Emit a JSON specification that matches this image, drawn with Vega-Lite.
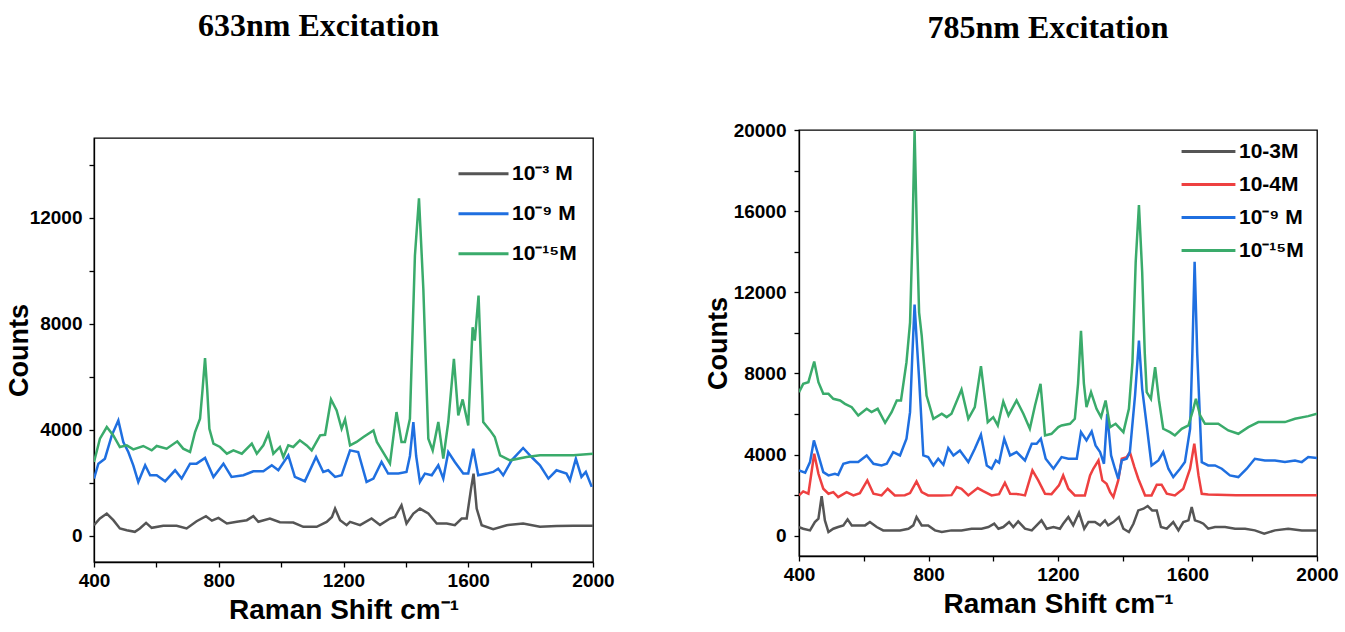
{
  "$schema": "https://vega.github.io/schema/vega-lite/v6.json",
  "padding": {"left": 4, "top": 9, "right": 0, "bottom": 0},
  "spacing": 88,
  "resolve": {"scale": {"color": "independent"}, "legend": {"color": "independent"}},
  "config": {
    "font": "Liberation Sans",
    "view": {"stroke": "black", "strokeWidth": 1.3},
    "axis": {
      "labelFont": "Liberation Sans", "labelFontSize": 19, "labelFontWeight": "bold", "labelColor": "black",
      "titleFont": "Liberation Sans", "titleFontSize": 27, "titleFontWeight": "bold", "titleColor": "black",
      "domainColor": "black", "domainWidth": 1.3, "tickColor": "black", "tickWidth": 1.3, "tickSize": 5,
      "grid": false, "labelFlush": false, "labelOverlap": false, "labelBound": false
    },
    "legend": {
      "labelFont": "Liberation Sans", "labelFontSize": 21, "labelFontWeight": "bold", "labelColor": "black",
      "symbolType": "stroke", "symbolStrokeWidth": 3, "labelOffset": 2, "title": null
    },
    "title": {"font": "Liberation Serif", "fontSize": 32, "fontWeight": "bold", "color": "black", "anchor": "middle"}
  },
  "datasets": {
    "left": [
      {"x":400,"y":389,"s":"10⁻³ M"},{"x":419,"y":640,"s":"10⁻³ M"},{"x":441,"y":829,"s":"10⁻³ M"},{"x":462,"y":578,"s":"10⁻³ M"},{"x":483,"y":264,"s":"10⁻³ M"},{"x":505,"y":201,"s":"10⁻³ M"},{"x":531,"y":138,"s":"10⁻³ M"},{"x":547,"y":264,"s":"10⁻³ M"},{"x":567,"y":477,"s":"10⁻³ M"},{"x":585,"y":289,"s":"10⁻³ M"},{"x":622,"y":364,"s":"10⁻³ M"},{"x":665,"y":364,"s":"10⁻³ M"},{"x":697,"y":264,"s":"10⁻³ M"},{"x":729,"y":540,"s":"10⁻³ M"},{"x":759,"y":728,"s":"10⁻³ M"},{"x":778,"y":560,"s":"10⁻³ M"},{"x":799,"y":665,"s":"10⁻³ M"},{"x":826,"y":452,"s":"10⁻³ M"},{"x":858,"y":515,"s":"10⁻³ M"},{"x":890,"y":578,"s":"10⁻³ M"},{"x":911,"y":728,"s":"10⁻³ M"},{"x":927,"y":520,"s":"10⁻³ M"},{"x":964,"y":640,"s":"10⁻³ M"},{"x":996,"y":500,"s":"10⁻³ M"},{"x":1039,"y":490,"s":"10⁻³ M"},{"x":1071,"y":327,"s":"10⁻³ M"},{"x":1114,"y":330,"s":"10⁻³ M"},{"x":1146,"y":515,"s":"10⁻³ M"},{"x":1163,"y":700,"s":"10⁻³ M"},{"x":1173,"y":1017,"s":"10⁻³ M"},{"x":1189,"y":578,"s":"10⁻³ M"},{"x":1210,"y":389,"s":"10⁻³ M"},{"x":1221,"y":515,"s":"10⁻³ M"},{"x":1253,"y":389,"s":"10⁻³ M"},{"x":1290,"y":640,"s":"10⁻³ M"},{"x":1317,"y":400,"s":"10⁻³ M"},{"x":1349,"y":640,"s":"10⁻³ M"},{"x":1365,"y":700,"s":"10⁻³ M"},{"x":1386,"y":1142,"s":"10⁻³ M"},{"x":1402,"y":452,"s":"10⁻³ M"},{"x":1424,"y":829,"s":"10⁻³ M"},{"x":1445,"y":1017,"s":"10⁻³ M"},{"x":1472,"y":829,"s":"10⁻³ M"},{"x":1499,"y":452,"s":"10⁻³ M"},{"x":1531,"y":450,"s":"10⁻³ M"},{"x":1557,"y":389,"s":"10⁻³ M"},{"x":1579,"y":640,"s":"10⁻³ M"},{"x":1595,"y":640,"s":"10⁻³ M"},{"x":1609,"y":1770,"s":"10⁻³ M"},{"x":1617,"y":2335,"s":"10⁻³ M"},{"x":1627,"y":1017,"s":"10⁻³ M"},{"x":1643,"y":389,"s":"10⁻³ M"},{"x":1680,"y":238,"s":"10⁻³ M"},{"x":1723,"y":389,"s":"10⁻³ M"},{"x":1776,"y":452,"s":"10⁻³ M"},{"x":1830,"y":327,"s":"10⁻³ M"},{"x":1883,"y":360,"s":"10⁻³ M"},{"x":1937,"y":364,"s":"10⁻³ M"},{"x":2000,"y":364,"s":"10⁻³ M"},
      {"x":400,"y":2147,"s":"10⁻⁹ M"},{"x":414,"y":2712,"s":"10⁻⁹ M"},{"x":435,"y":2900,"s":"10⁻⁹ M"},{"x":457,"y":3779,"s":"10⁻⁹ M"},{"x":478,"y":4344,"s":"10⁻⁹ M"},{"x":494,"y":3528,"s":"10⁻⁹ M"},{"x":510,"y":3152,"s":"10⁻⁹ M"},{"x":526,"y":2650,"s":"10⁻⁹ M"},{"x":542,"y":2022,"s":"10⁻⁹ M"},{"x":564,"y":2650,"s":"10⁻⁹ M"},{"x":580,"y":2273,"s":"10⁻⁹ M"},{"x":601,"y":2273,"s":"10⁻⁹ M"},{"x":628,"y":2047,"s":"10⁻⁹ M"},{"x":660,"y":2461,"s":"10⁻⁹ M"},{"x":681,"y":2147,"s":"10⁻⁹ M"},{"x":708,"y":2712,"s":"10⁻⁹ M"},{"x":729,"y":2712,"s":"10⁻⁹ M"},{"x":756,"y":2925,"s":"10⁻⁹ M"},{"x":783,"y":2210,"s":"10⁻⁹ M"},{"x":815,"y":2712,"s":"10⁻⁹ M"},{"x":841,"y":2210,"s":"10⁻⁹ M"},{"x":879,"y":2273,"s":"10⁻⁹ M"},{"x":911,"y":2424,"s":"10⁻⁹ M"},{"x":943,"y":2424,"s":"10⁻⁹ M"},{"x":970,"y":2650,"s":"10⁻⁹ M"},{"x":991,"y":2461,"s":"10⁻⁹ M"},{"x":1023,"y":3025,"s":"10⁻⁹ M"},{"x":1044,"y":2210,"s":"10⁻⁹ M"},{"x":1076,"y":2047,"s":"10⁻⁹ M"},{"x":1112,"y":2963,"s":"10⁻⁹ M"},{"x":1135,"y":2398,"s":"10⁻⁹ M"},{"x":1151,"y":2461,"s":"10⁻⁹ M"},{"x":1173,"y":2210,"s":"10⁻⁹ M"},{"x":1194,"y":2273,"s":"10⁻⁹ M"},{"x":1221,"y":3213,"s":"10⁻⁹ M"},{"x":1247,"y":3150,"s":"10⁻⁹ M"},{"x":1274,"y":2022,"s":"10⁻⁹ M"},{"x":1296,"y":2147,"s":"10⁻⁹ M"},{"x":1322,"y":2775,"s":"10⁻⁹ M"},{"x":1343,"y":2336,"s":"10⁻⁹ M"},{"x":1376,"y":2336,"s":"10⁻⁹ M"},{"x":1402,"y":2398,"s":"10⁻⁹ M"},{"x":1413,"y":3000,"s":"10⁻⁹ M"},{"x":1424,"y":4282,"s":"10⁻⁹ M"},{"x":1433,"y":3000,"s":"10⁻⁹ M"},{"x":1445,"y":2022,"s":"10⁻⁹ M"},{"x":1461,"y":2336,"s":"10⁻⁹ M"},{"x":1483,"y":2273,"s":"10⁻⁹ M"},{"x":1504,"y":2650,"s":"10⁻⁹ M"},{"x":1520,"y":2147,"s":"10⁻⁹ M"},{"x":1536,"y":3152,"s":"10⁻⁹ M"},{"x":1557,"y":2775,"s":"10⁻⁹ M"},{"x":1584,"y":2336,"s":"10⁻⁹ M"},{"x":1600,"y":2336,"s":"10⁻⁹ M"},{"x":1616,"y":3277,"s":"10⁻⁹ M"},{"x":1632,"y":2273,"s":"10⁻⁹ M"},{"x":1659,"y":2336,"s":"10⁻⁹ M"},{"x":1680,"y":2398,"s":"10⁻⁹ M"},{"x":1696,"y":2524,"s":"10⁻⁹ M"},{"x":1712,"y":2273,"s":"10⁻⁹ M"},{"x":1739,"y":2836,"s":"10⁻⁹ M"},{"x":1776,"y":3302,"s":"10⁻⁹ M"},{"x":1803,"y":2962,"s":"10⁻⁹ M"},{"x":1830,"y":2650,"s":"10⁻⁹ M"},{"x":1857,"y":2147,"s":"10⁻⁹ M"},{"x":1883,"y":2461,"s":"10⁻⁹ M"},{"x":1915,"y":2336,"s":"10⁻⁹ M"},{"x":1926,"y":2085,"s":"10⁻⁹ M"},{"x":1945,"y":2900,"s":"10⁻⁹ M"},{"x":1963,"y":2210,"s":"10⁻⁹ M"},{"x":1977,"y":2398,"s":"10⁻⁹ M"},{"x":1996,"y":1834,"s":"10⁻⁹ M"},
      {"x":400,"y":2775,"s":"10⁻¹⁵M"},{"x":419,"y":3653,"s":"10⁻¹⁵M"},{"x":441,"y":4094,"s":"10⁻¹⁵M"},{"x":462,"y":3779,"s":"10⁻¹⁵M"},{"x":483,"y":3340,"s":"10⁻¹⁵M"},{"x":505,"y":3403,"s":"10⁻¹⁵M"},{"x":526,"y":3250,"s":"10⁻¹⁵M"},{"x":558,"y":3378,"s":"10⁻¹⁵M"},{"x":585,"y":3213,"s":"10⁻¹⁵M"},{"x":601,"y":3378,"s":"10⁻¹⁵M"},{"x":633,"y":3277,"s":"10⁻¹⁵M"},{"x":667,"y":3553,"s":"10⁻¹⁵M"},{"x":686,"y":3277,"s":"10⁻¹⁵M"},{"x":708,"y":3152,"s":"10⁻¹⁵M"},{"x":724,"y":3904,"s":"10⁻¹⁵M"},{"x":740,"y":4407,"s":"10⁻¹⁵M"},{"x":748,"y":5500,"s":"10⁻¹⁵M"},{"x":756,"y":6693,"s":"10⁻¹⁵M"},{"x":763,"y":5500,"s":"10⁻¹⁵M"},{"x":770,"y":4030,"s":"10⁻¹⁵M"},{"x":783,"y":3466,"s":"10⁻¹⁵M"},{"x":804,"y":3340,"s":"10⁻¹⁵M"},{"x":826,"y":3088,"s":"10⁻¹⁵M"},{"x":847,"y":3213,"s":"10⁻¹⁵M"},{"x":874,"y":3088,"s":"10⁻¹⁵M"},{"x":906,"y":3466,"s":"10⁻¹⁵M"},{"x":922,"y":3088,"s":"10⁻¹⁵M"},{"x":943,"y":3403,"s":"10⁻¹⁵M"},{"x":959,"y":3842,"s":"10⁻¹⁵M"},{"x":975,"y":3088,"s":"10⁻¹⁵M"},{"x":996,"y":3340,"s":"10⁻¹⁵M"},{"x":1007,"y":2963,"s":"10⁻¹⁵M"},{"x":1023,"y":3403,"s":"10⁻¹⁵M"},{"x":1039,"y":3340,"s":"10⁻¹⁵M"},{"x":1060,"y":3591,"s":"10⁻¹⁵M"},{"x":1082,"y":3400,"s":"10⁻¹⁵M"},{"x":1098,"y":3213,"s":"10⁻¹⁵M"},{"x":1125,"y":3779,"s":"10⁻¹⁵M"},{"x":1141,"y":3800,"s":"10⁻¹⁵M"},{"x":1160,"y":5135,"s":"10⁻¹⁵M"},{"x":1178,"y":4720,"s":"10⁻¹⁵M"},{"x":1194,"y":4030,"s":"10⁻¹⁵M"},{"x":1205,"y":4382,"s":"10⁻¹⁵M"},{"x":1221,"y":3400,"s":"10⁻¹⁵M"},{"x":1242,"y":3530,"s":"10⁻¹⁵M"},{"x":1264,"y":3716,"s":"10⁻¹⁵M"},{"x":1296,"y":3966,"s":"10⁻¹⁵M"},{"x":1307,"y":3530,"s":"10⁻¹⁵M"},{"x":1349,"y":2712,"s":"10⁻¹⁵M"},{"x":1370,"y":4658,"s":"10⁻¹⁵M"},{"x":1386,"y":3530,"s":"10⁻¹⁵M"},{"x":1397,"y":3530,"s":"10⁻¹⁵M"},{"x":1413,"y":4407,"s":"10⁻¹⁵M"},{"x":1429,"y":10557,"s":"10⁻¹⁵M"},{"x":1442,"y":12720,"s":"10⁻¹⁵M"},{"x":1456,"y":9303,"s":"10⁻¹⁵M"},{"x":1472,"y":3653,"s":"10⁻¹⁵M"},{"x":1486,"y":3213,"s":"10⁻¹⁵M"},{"x":1504,"y":4282,"s":"10⁻¹⁵M"},{"x":1520,"y":2900,"s":"10⁻¹⁵M"},{"x":1536,"y":4282,"s":"10⁻¹⁵M"},{"x":1554,"y":6667,"s":"10⁻¹⁵M"},{"x":1568,"y":4532,"s":"10⁻¹⁵M"},{"x":1582,"y":5135,"s":"10⁻¹⁵M"},{"x":1600,"y":4156,"s":"10⁻¹⁵M"},{"x":1614,"y":7860,"s":"10⁻¹⁵M"},{"x":1621,"y":7357,"s":"10⁻¹⁵M"},{"x":1633,"y":9052,"s":"10⁻¹⁵M"},{"x":1648,"y":4282,"s":"10⁻¹⁵M"},{"x":1670,"y":3966,"s":"10⁻¹⁵M"},{"x":1685,"y":3716,"s":"10⁻¹⁵M"},{"x":1702,"y":3025,"s":"10⁻¹⁵M"},{"x":1734,"y":2836,"s":"10⁻¹⁵M"},{"x":1787,"y":2962,"s":"10⁻¹⁵M"},{"x":1830,"y":3025,"s":"10⁻¹⁵M"},{"x":1883,"y":3025,"s":"10⁻¹⁵M"},{"x":1937,"y":3025,"s":"10⁻¹⁵M"},{"x":2000,"y":3088,"s":"10⁻¹⁵M"}
    ],
    "right": [
      {"x":400,"y":427,"s":"10-3M"},{"x":413,"y":345,"s":"10-3M"},{"x":434,"y":263,"s":"10-3M"},{"x":449,"y":673,"s":"10-3M"},{"x":460,"y":838,"s":"10-3M"},{"x":470,"y":1950,"s":"10-3M"},{"x":480,"y":756,"s":"10-3M"},{"x":491,"y":181,"s":"10-3M"},{"x":506,"y":345,"s":"10-3M"},{"x":521,"y":427,"s":"10-3M"},{"x":537,"y":509,"s":"10-3M"},{"x":550,"y":805,"s":"10-3M"},{"x":563,"y":509,"s":"10-3M"},{"x":588,"y":509,"s":"10-3M"},{"x":604,"y":509,"s":"10-3M"},{"x":619,"y":673,"s":"10-3M"},{"x":640,"y":427,"s":"10-3M"},{"x":660,"y":263,"s":"10-3M"},{"x":686,"y":263,"s":"10-3M"},{"x":712,"y":263,"s":"10-3M"},{"x":738,"y":345,"s":"10-3M"},{"x":753,"y":509,"s":"10-3M"},{"x":763,"y":920,"s":"10-3M"},{"x":779,"y":509,"s":"10-3M"},{"x":799,"y":509,"s":"10-3M"},{"x":820,"y":263,"s":"10-3M"},{"x":841,"y":181,"s":"10-3M"},{"x":871,"y":263,"s":"10-3M"},{"x":902,"y":263,"s":"10-3M"},{"x":933,"y":345,"s":"10-3M"},{"x":964,"y":345,"s":"10-3M"},{"x":985,"y":427,"s":"10-3M"},{"x":1003,"y":591,"s":"10-3M"},{"x":1016,"y":345,"s":"10-3M"},{"x":1031,"y":427,"s":"10-3M"},{"x":1049,"y":673,"s":"10-3M"},{"x":1062,"y":427,"s":"10-3M"},{"x":1077,"y":706,"s":"10-3M"},{"x":1098,"y":345,"s":"10-3M"},{"x":1119,"y":263,"s":"10-3M"},{"x":1134,"y":509,"s":"10-3M"},{"x":1149,"y":756,"s":"10-3M"},{"x":1165,"y":345,"s":"10-3M"},{"x":1186,"y":427,"s":"10-3M"},{"x":1206,"y":345,"s":"10-3M"},{"x":1216,"y":591,"s":"10-3M"},{"x":1232,"y":920,"s":"10-3M"},{"x":1247,"y":509,"s":"10-3M"},{"x":1265,"y":1133,"s":"10-3M"},{"x":1281,"y":345,"s":"10-3M"},{"x":1294,"y":673,"s":"10-3M"},{"x":1314,"y":673,"s":"10-3M"},{"x":1330,"y":509,"s":"10-3M"},{"x":1345,"y":756,"s":"10-3M"},{"x":1355,"y":509,"s":"10-3M"},{"x":1371,"y":673,"s":"10-3M"},{"x":1388,"y":920,"s":"10-3M"},{"x":1402,"y":345,"s":"10-3M"},{"x":1419,"y":181,"s":"10-3M"},{"x":1433,"y":591,"s":"10-3M"},{"x":1448,"y":1248,"s":"10-3M"},{"x":1464,"y":1330,"s":"10-3M"},{"x":1477,"y":1462,"s":"10-3M"},{"x":1491,"y":1248,"s":"10-3M"},{"x":1505,"y":1248,"s":"10-3M"},{"x":1518,"y":427,"s":"10-3M"},{"x":1536,"y":345,"s":"10-3M"},{"x":1556,"y":673,"s":"10-3M"},{"x":1572,"y":263,"s":"10-3M"},{"x":1587,"y":673,"s":"10-3M"},{"x":1603,"y":756,"s":"10-3M"},{"x":1613,"y":1412,"s":"10-3M"},{"x":1623,"y":756,"s":"10-3M"},{"x":1639,"y":673,"s":"10-3M"},{"x":1649,"y":591,"s":"10-3M"},{"x":1664,"y":345,"s":"10-3M"},{"x":1685,"y":427,"s":"10-3M"},{"x":1716,"y":427,"s":"10-3M"},{"x":1747,"y":345,"s":"10-3M"},{"x":1778,"y":345,"s":"10-3M"},{"x":1808,"y":263,"s":"10-3M"},{"x":1837,"y":99,"s":"10-3M"},{"x":1870,"y":263,"s":"10-3M"},{"x":1911,"y":345,"s":"10-3M"},{"x":1953,"y":263,"s":"10-3M"},{"x":2000,"y":263,"s":"10-3M"},
      {"x":400,"y":1987,"s":"10-4M"},{"x":413,"y":2184,"s":"10-4M"},{"x":429,"y":2069,"s":"10-4M"},{"x":447,"y":4040,"s":"10-4M"},{"x":460,"y":3054,"s":"10-4M"},{"x":475,"y":2316,"s":"10-4M"},{"x":491,"y":2069,"s":"10-4M"},{"x":506,"y":2151,"s":"10-4M"},{"x":521,"y":1905,"s":"10-4M"},{"x":547,"y":2151,"s":"10-4M"},{"x":568,"y":1987,"s":"10-4M"},{"x":588,"y":2100,"s":"10-4M"},{"x":611,"y":2726,"s":"10-4M"},{"x":630,"y":2069,"s":"10-4M"},{"x":655,"y":1987,"s":"10-4M"},{"x":674,"y":2316,"s":"10-4M"},{"x":696,"y":1987,"s":"10-4M"},{"x":727,"y":2000,"s":"10-4M"},{"x":743,"y":2100,"s":"10-4M"},{"x":763,"y":2677,"s":"10-4M"},{"x":779,"y":2151,"s":"10-4M"},{"x":799,"y":1987,"s":"10-4M"},{"x":841,"y":1987,"s":"10-4M"},{"x":871,"y":2000,"s":"10-4M"},{"x":887,"y":2398,"s":"10-4M"},{"x":902,"y":2316,"s":"10-4M"},{"x":923,"y":1987,"s":"10-4M"},{"x":952,"y":2349,"s":"10-4M"},{"x":969,"y":2200,"s":"10-4M"},{"x":995,"y":1987,"s":"10-4M"},{"x":1018,"y":2050,"s":"10-4M"},{"x":1036,"y":2611,"s":"10-4M"},{"x":1052,"y":2069,"s":"10-4M"},{"x":1077,"y":2050,"s":"10-4M"},{"x":1098,"y":1987,"s":"10-4M"},{"x":1121,"y":3218,"s":"10-4M"},{"x":1139,"y":2726,"s":"10-4M"},{"x":1160,"y":2069,"s":"10-4M"},{"x":1180,"y":2050,"s":"10-4M"},{"x":1203,"y":2480,"s":"10-4M"},{"x":1216,"y":2972,"s":"10-4M"},{"x":1232,"y":2316,"s":"10-4M"},{"x":1252,"y":1987,"s":"10-4M"},{"x":1283,"y":1987,"s":"10-4M"},{"x":1299,"y":2972,"s":"10-4M"},{"x":1309,"y":3301,"s":"10-4M"},{"x":1325,"y":3711,"s":"10-4M"},{"x":1337,"y":2726,"s":"10-4M"},{"x":1350,"y":2562,"s":"10-4M"},{"x":1361,"y":2151,"s":"10-4M"},{"x":1371,"y":1905,"s":"10-4M"},{"x":1386,"y":2726,"s":"10-4M"},{"x":1397,"y":3793,"s":"10-4M"},{"x":1412,"y":3875,"s":"10-4M"},{"x":1422,"y":4121,"s":"10-4M"},{"x":1436,"y":3383,"s":"10-4M"},{"x":1448,"y":2808,"s":"10-4M"},{"x":1469,"y":1987,"s":"10-4M"},{"x":1489,"y":1987,"s":"10-4M"},{"x":1505,"y":2513,"s":"10-4M"},{"x":1520,"y":2513,"s":"10-4M"},{"x":1536,"y":2069,"s":"10-4M"},{"x":1561,"y":1987,"s":"10-4M"},{"x":1587,"y":2316,"s":"10-4M"},{"x":1608,"y":3301,"s":"10-4M"},{"x":1621,"y":4532,"s":"10-4M"},{"x":1634,"y":2972,"s":"10-4M"},{"x":1644,"y":2069,"s":"10-4M"},{"x":1664,"y":2036,"s":"10-4M"},{"x":1750,"y":2000,"s":"10-4M"},{"x":1850,"y":2000,"s":"10-4M"},{"x":2000,"y":2000,"s":"10-4M"},
      {"x":400,"y":3218,"s":"10⁻⁹ M"},{"x":419,"y":3104,"s":"10⁻⁹ M"},{"x":434,"y":3629,"s":"10⁻⁹ M"},{"x":446,"y":4696,"s":"10⁻⁹ M"},{"x":460,"y":3957,"s":"10⁻⁹ M"},{"x":475,"y":3136,"s":"10⁻⁹ M"},{"x":491,"y":2972,"s":"10⁻⁹ M"},{"x":511,"y":3050,"s":"10⁻⁹ M"},{"x":521,"y":3000,"s":"10⁻⁹ M"},{"x":537,"y":3547,"s":"10⁻⁹ M"},{"x":557,"y":3629,"s":"10⁻⁹ M"},{"x":583,"y":3629,"s":"10⁻⁹ M"},{"x":609,"y":3957,"s":"10⁻⁹ M"},{"x":630,"y":3547,"s":"10⁻⁹ M"},{"x":655,"y":3465,"s":"10⁻⁹ M"},{"x":671,"y":3547,"s":"10⁻⁹ M"},{"x":691,"y":4121,"s":"10⁻⁹ M"},{"x":712,"y":3957,"s":"10⁻⁹ M"},{"x":732,"y":4779,"s":"10⁻⁹ M"},{"x":743,"y":6092,"s":"10⁻⁹ M"},{"x":750,"y":8883,"s":"10⁻⁹ M"},{"x":757,"y":11400,"s":"10⁻⁹ M"},{"x":764,"y":9500,"s":"10⁻⁹ M"},{"x":771,"y":7734,"s":"10⁻⁹ M"},{"x":784,"y":3957,"s":"10⁻⁹ M"},{"x":799,"y":3875,"s":"10⁻⁹ M"},{"x":815,"y":3465,"s":"10⁻⁹ M"},{"x":830,"y":3793,"s":"10⁻⁹ M"},{"x":846,"y":3498,"s":"10⁻⁹ M"},{"x":861,"y":4318,"s":"10⁻⁹ M"},{"x":877,"y":3957,"s":"10⁻⁹ M"},{"x":897,"y":4204,"s":"10⁻⁹ M"},{"x":923,"y":3629,"s":"10⁻⁹ M"},{"x":943,"y":4286,"s":"10⁻⁹ M"},{"x":962,"y":4976,"s":"10⁻⁹ M"},{"x":980,"y":3465,"s":"10⁻⁹ M"},{"x":995,"y":3301,"s":"10⁻⁹ M"},{"x":1008,"y":3711,"s":"10⁻⁹ M"},{"x":1018,"y":3600,"s":"10⁻⁹ M"},{"x":1034,"y":4779,"s":"10⁻⁹ M"},{"x":1052,"y":3957,"s":"10⁻⁹ M"},{"x":1072,"y":4121,"s":"10⁻⁹ M"},{"x":1098,"y":3711,"s":"10⁻⁹ M"},{"x":1119,"y":4532,"s":"10⁻⁹ M"},{"x":1134,"y":4532,"s":"10⁻⁹ M"},{"x":1147,"y":4779,"s":"10⁻⁹ M"},{"x":1162,"y":3793,"s":"10⁻⁹ M"},{"x":1186,"y":3301,"s":"10⁻⁹ M"},{"x":1211,"y":3875,"s":"10⁻⁹ M"},{"x":1232,"y":3793,"s":"10⁻⁹ M"},{"x":1258,"y":3793,"s":"10⁻⁹ M"},{"x":1271,"y":5107,"s":"10⁻⁹ M"},{"x":1288,"y":4696,"s":"10⁻⁹ M"},{"x":1304,"y":5140,"s":"10⁻⁹ M"},{"x":1316,"y":4450,"s":"10⁻⁹ M"},{"x":1330,"y":4121,"s":"10⁻⁹ M"},{"x":1342,"y":3547,"s":"10⁻⁹ M"},{"x":1352,"y":6010,"s":"10⁻⁹ M"},{"x":1364,"y":3957,"s":"10⁻⁹ M"},{"x":1376,"y":3301,"s":"10⁻⁹ M"},{"x":1386,"y":2808,"s":"10⁻⁹ M"},{"x":1397,"y":3711,"s":"10⁻⁹ M"},{"x":1412,"y":3793,"s":"10⁻⁹ M"},{"x":1422,"y":4121,"s":"10⁻⁹ M"},{"x":1438,"y":6913,"s":"10⁻⁹ M"},{"x":1450,"y":9622,"s":"10⁻⁹ M"},{"x":1460,"y":7241,"s":"10⁻⁹ M"},{"x":1474,"y":5435,"s":"10⁻⁹ M"},{"x":1489,"y":3465,"s":"10⁻⁹ M"},{"x":1510,"y":3711,"s":"10⁻⁹ M"},{"x":1525,"y":4121,"s":"10⁻⁹ M"},{"x":1541,"y":3301,"s":"10⁻⁹ M"},{"x":1556,"y":2890,"s":"10⁻⁹ M"},{"x":1577,"y":3301,"s":"10⁻⁹ M"},{"x":1592,"y":3629,"s":"10⁻⁹ M"},{"x":1608,"y":5271,"s":"10⁻⁹ M"},{"x":1615,"y":9000,"s":"10⁻⁹ M"},{"x":1622,"y":13500,"s":"10⁻⁹ M"},{"x":1630,"y":9000,"s":"10⁻⁹ M"},{"x":1644,"y":3629,"s":"10⁻⁹ M"},{"x":1664,"y":3465,"s":"10⁻⁹ M"},{"x":1685,"y":3465,"s":"10⁻⁹ M"},{"x":1706,"y":3301,"s":"10⁻⁹ M"},{"x":1731,"y":2972,"s":"10⁻⁹ M"},{"x":1757,"y":2890,"s":"10⁻⁹ M"},{"x":1783,"y":3301,"s":"10⁻⁹ M"},{"x":1808,"y":3793,"s":"10⁻⁹ M"},{"x":1839,"y":3711,"s":"10⁻⁹ M"},{"x":1870,"y":3711,"s":"10⁻⁹ M"},{"x":1901,"y":3629,"s":"10⁻⁹ M"},{"x":1932,"y":3711,"s":"10⁻⁹ M"},{"x":1953,"y":3629,"s":"10⁻⁹ M"},{"x":1973,"y":3875,"s":"10⁻⁹ M"},{"x":2000,"y":3826,"s":"10⁻⁹ M"},
      {"x":400,"y":7077,"s":"10⁻¹⁵M"},{"x":413,"y":7488,"s":"10⁻¹⁵M"},{"x":429,"y":7570,"s":"10⁻¹⁵M"},{"x":447,"y":8588,"s":"10⁻¹⁵M"},{"x":460,"y":7570,"s":"10⁻¹⁵M"},{"x":475,"y":6995,"s":"10⁻¹⁵M"},{"x":491,"y":6995,"s":"10⁻¹⁵M"},{"x":506,"y":6749,"s":"10⁻¹⁵M"},{"x":527,"y":6667,"s":"10⁻¹⁵M"},{"x":542,"y":6503,"s":"10⁻¹⁵M"},{"x":563,"y":6338,"s":"10⁻¹⁵M"},{"x":583,"y":5928,"s":"10⁻¹⁵M"},{"x":609,"y":6256,"s":"10⁻¹⁵M"},{"x":624,"y":6092,"s":"10⁻¹⁵M"},{"x":643,"y":6256,"s":"10⁻¹⁵M"},{"x":666,"y":5567,"s":"10⁻¹⁵M"},{"x":686,"y":6092,"s":"10⁻¹⁵M"},{"x":702,"y":6667,"s":"10⁻¹⁵M"},{"x":715,"y":6667,"s":"10⁻¹⁵M"},{"x":732,"y":8555,"s":"10⁻¹⁵M"},{"x":743,"y":10500,"s":"10⁻¹⁵M"},{"x":750,"y":14500,"s":"10⁻¹⁵M"},{"x":757,"y":20000,"s":"10⁻¹⁵M"},{"x":764,"y":15000,"s":"10⁻¹⁵M"},{"x":771,"y":11000,"s":"10⁻¹⁵M"},{"x":779,"y":9869,"s":"10⁻¹⁵M"},{"x":794,"y":6913,"s":"10⁻¹⁵M"},{"x":815,"y":5764,"s":"10⁻¹⁵M"},{"x":841,"y":6010,"s":"10⁻¹⁵M"},{"x":856,"y":5846,"s":"10⁻¹⁵M"},{"x":871,"y":6010,"s":"10⁻¹⁵M"},{"x":902,"y":7209,"s":"10⁻¹⁵M"},{"x":923,"y":5764,"s":"10⁻¹⁵M"},{"x":943,"y":6338,"s":"10⁻¹⁵M"},{"x":962,"y":8358,"s":"10⁻¹⁵M"},{"x":983,"y":5600,"s":"10⁻¹⁵M"},{"x":1000,"y":5846,"s":"10⁻¹⁵M"},{"x":1014,"y":5435,"s":"10⁻¹⁵M"},{"x":1031,"y":6617,"s":"10⁻¹⁵M"},{"x":1047,"y":5928,"s":"10⁻¹⁵M"},{"x":1072,"y":6667,"s":"10⁻¹⁵M"},{"x":1093,"y":6010,"s":"10⁻¹⁵M"},{"x":1113,"y":5271,"s":"10⁻¹⁵M"},{"x":1129,"y":6420,"s":"10⁻¹⁵M"},{"x":1146,"y":7488,"s":"10⁻¹⁵M"},{"x":1160,"y":4943,"s":"10⁻¹⁵M"},{"x":1180,"y":5025,"s":"10⁻¹⁵M"},{"x":1201,"y":5353,"s":"10⁻¹⁵M"},{"x":1211,"y":5435,"s":"10⁻¹⁵M"},{"x":1237,"y":5517,"s":"10⁻¹⁵M"},{"x":1252,"y":5764,"s":"10⁻¹⁵M"},{"x":1262,"y":7500,"s":"10⁻¹⁵M"},{"x":1271,"y":10100,"s":"10⁻¹⁵M"},{"x":1280,"y":7500,"s":"10⁻¹⁵M"},{"x":1288,"y":6338,"s":"10⁻¹⁵M"},{"x":1302,"y":7077,"s":"10⁻¹⁵M"},{"x":1319,"y":6256,"s":"10⁻¹⁵M"},{"x":1333,"y":5846,"s":"10⁻¹⁵M"},{"x":1347,"y":6667,"s":"10⁻¹⁵M"},{"x":1361,"y":5353,"s":"10⁻¹⁵M"},{"x":1378,"y":5517,"s":"10⁻¹⁵M"},{"x":1402,"y":5107,"s":"10⁻¹⁵M"},{"x":1419,"y":6256,"s":"10⁻¹⁵M"},{"x":1430,"y":8555,"s":"10⁻¹⁵M"},{"x":1440,"y":13500,"s":"10⁻¹⁵M"},{"x":1450,"y":16300,"s":"10⁻¹⁵M"},{"x":1460,"y":13000,"s":"10⁻¹⁵M"},{"x":1468,"y":9000,"s":"10⁻¹⁵M"},{"x":1474,"y":7077,"s":"10⁻¹⁵M"},{"x":1487,"y":6749,"s":"10⁻¹⁵M"},{"x":1500,"y":8309,"s":"10⁻¹⁵M"},{"x":1512,"y":6667,"s":"10⁻¹⁵M"},{"x":1525,"y":5271,"s":"10⁻¹⁵M"},{"x":1546,"y":5107,"s":"10⁻¹⁵M"},{"x":1561,"y":4943,"s":"10⁻¹⁵M"},{"x":1582,"y":5271,"s":"10⁻¹⁵M"},{"x":1603,"y":5435,"s":"10⁻¹⁵M"},{"x":1618,"y":6256,"s":"10⁻¹⁵M"},{"x":1626,"y":6749,"s":"10⁻¹⁵M"},{"x":1639,"y":5928,"s":"10⁻¹⁵M"},{"x":1654,"y":5517,"s":"10⁻¹⁵M"},{"x":1695,"y":5517,"s":"10⁻¹⁵M"},{"x":1726,"y":5189,"s":"10⁻¹⁵M"},{"x":1757,"y":5025,"s":"10⁻¹⁵M"},{"x":1788,"y":5353,"s":"10⁻¹⁵M"},{"x":1819,"y":5600,"s":"10⁻¹⁵M"},{"x":1860,"y":5600,"s":"10⁻¹⁵M"},{"x":1901,"y":5600,"s":"10⁻¹⁵M"},{"x":1932,"y":5764,"s":"10⁻¹⁵M"},{"x":1973,"y":5895,"s":"10⁻¹⁵M"},{"x":2000,"y":6010,"s":"10⁻¹⁵M"}
    ]
  },
  "hconcat": [
    {
      "vconcat": [
        {
          "width": 10, "height": 1,
          "view": {"stroke": null},
          "data": {"values": []},
          "mark": "point"
        },
        {
          "title": {"text": "633nm Excitation", "offset": 95, "dx": -25},
          "width": 499, "height": 424,
          "data": {"name": "left"},
          "mark": {"type": "line", "strokeWidth": 2.5, "clip": true},
          "encoding": {
            "x": {"field": "x", "type": "quantitative", "scale": {"domain": [400, 2000], "nice": false, "zero": false},
                  "axis": {"title": "Raman Shift cm⁻¹", "titleFontSize": 28, "values": [400,600,800,1000,1200,1400,1600,1800,2000], "format": "d", "labelExpr": "datum.value % 400 === 0 ? datum.label : ''", "titlePadding": 6, "labelPadding": 4}},
            "y": {"field": "y", "type": "quantitative", "scale": {"domain": [-1000, 15000], "nice": false, "zero": false},
                  "axis": {"title": "Counts", "values": [0,2000,4000,6000,8000,10000,12000,14000], "format": "d", "labelExpr": "datum.value % 4000 === 0 ? datum.label : ''", "titlePadding": -4, "labelPadding": 7}},
            "color": {"field": "s", "type": "nominal",
                      "scale": {"domain": ["10⁻³ M", "10⁻⁹ M", "10⁻¹⁵M"], "range": ["#555555", "#1f6fe0", "#3aab6b"]},
                      "legend": {"orient": "none", "legendX": 363, "legendY": 24, "symbolSize": 2500, "clipHeight": 39.5, "rowPadding": 0}}
          }
        }
      ],
      "spacing": 7,
      "bounds": "flush"
    },
    {
      "title": {"text": "785nm Excitation", "offset": 76, "dx": -10},
      "width": 518, "height": 426,
      "data": {"name": "right"},
      "mark": {"type": "line", "strokeWidth": 2.5, "clip": true},
      "encoding": {
        "x": {"field": "x", "type": "quantitative", "scale": {"domain": [400, 2000], "nice": false, "zero": false},
              "axis": {"title": "Raman Shift cm⁻¹", "titleFontSize": 28, "values": [400,600,800,1000,1200,1400,1600,1800,2000], "format": "d", "labelExpr": "datum.value % 400 === 0 ? datum.label : ''", "titlePadding": 6, "labelPadding": 4}},
        "y": {"field": "y", "type": "quantitative", "scale": {"domain": [-1000, 20000], "nice": false, "zero": false},
              "axis": {"title": "Counts", "values": [0,2000,4000,6000,8000,10000,12000,14000,16000,18000,20000], "format": "d", "labelExpr": "datum.value % 4000 === 0 ? datum.label : ''", "titlePadding": 1, "labelPadding": 8}},
        "color": {"field": "s", "type": "nominal",
                  "scale": {"domain": ["10-3M", "10-4M", "10⁻⁹ M", "10⁻¹⁵M"], "range": ["#555555", "#ee4040", "#1f6fe0", "#3aab6b"]},
                  "legend": {"orient": "none", "legendX": 381, "legendY": 5, "symbolSize": 2900, "clipHeight": 33, "rowPadding": 0}}
      }
    }
  ]
}
